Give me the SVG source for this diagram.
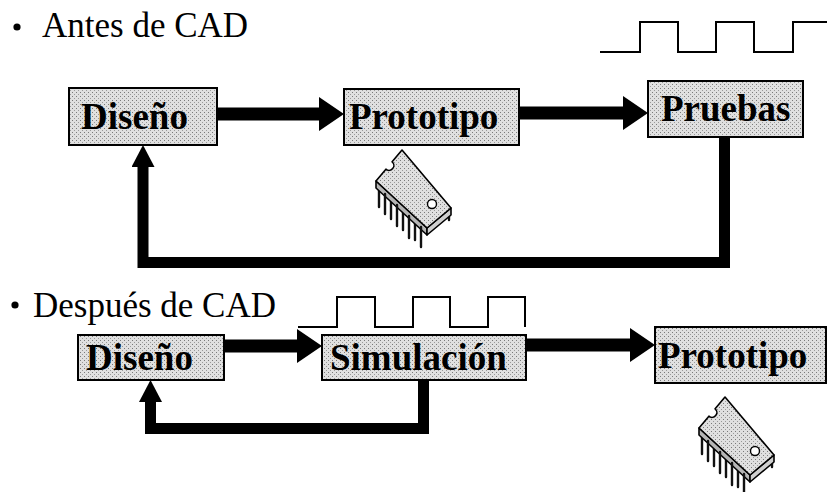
<svg xmlns="http://www.w3.org/2000/svg" width="827" height="492" viewBox="0 0 827 492">
  <style>
    .box { fill: url(#stipple); stroke: #000; stroke-width: 2; }
    .label { font-family: "Liberation Serif", "Times New Roman", serif; font-weight: bold; font-size: 37px; fill: #000; }
    .heading { font-family: "Liberation Serif", "Times New Roman", serif; font-size: 35px; fill: #000; }
    .flow { fill: none; stroke: #000; stroke-width: 13; }
    .loop { fill: none; stroke: #000; stroke-width: 11; }
    .wave { fill: none; stroke: #000; stroke-width: 2; }
    .pin { stroke: #111; stroke-width: 2.4; stroke-linecap: round; }
    .edge { stroke: #000; stroke-width: 1.6; stroke-linejoin: round; }
  </style>
  <defs>
    <!-- halftone-like grey fill used by the boxes and the chip -->
    <pattern id="stipple" width="4" height="4" patternUnits="userSpaceOnUse">
      <rect width="4" height="4" fill="#e0e0e0"/>
      <rect x="0" y="0" width="1" height="1" fill="#7a7a7a"/>
      <rect x="2" y="2" width="1" height="1" fill="#9a9a9a"/>
    </pattern>
    <!-- big arrowhead for the forward flow (line ends at the base) -->
    <marker id="headFlow" viewBox="0 0 25 34" refX="0" refY="17" markerWidth="25" markerHeight="34" markerUnits="userSpaceOnUse" orient="auto">
      <path d="M0,0 L25,17 L0,34 Z" fill="#000"/>
    </marker>
    <!-- smaller arrowhead for the feedback loops -->
    <marker id="headLoop" viewBox="0 0 22 23" refX="0" refY="11.5" markerWidth="22" markerHeight="23" markerUnits="userSpaceOnUse" orient="auto">
      <path d="M0,0 L22,11.5 L0,23 Z" fill="#000"/>
    </marker>
    <!-- DIP integrated circuit drawn in isometric view -->
    <g id="chip">
      <!-- back row of pins -->
      <line class="pin" x1="379" y1="187" x2="379" y2="207"/>
      <line class="pin" x1="391" y1="197" x2="391" y2="219"/>
      <line class="pin" x1="403" y1="208" x2="403" y2="230"/>
      <line class="pin" x1="415" y1="219" x2="415" y2="240"/>
      <line class="pin" x1="449" y1="212" x2="449" y2="220"/>
      <!-- body -->
      <path class="edge" d="M376,181 L427,228 L427,235 L376,188 Z" fill="#b5b5b5"/>
      <path class="edge" d="M427,228 L451,208 L451,215 L427,235 Z" fill="#cfcfcf"/>
      <path class="edge" d="M402,150 L392.1,161.8 A4.8,4.8 0 0 1 385.9,169.2 L376,181 L427,228 L451,208 Z" fill="url(#stipple)"/>
      <circle cx="432" cy="204" r="4.5" fill="#fff" stroke="#000" stroke-width="1.4"/>
      <!-- front row of pins -->
      <line class="pin" x1="385" y1="194" x2="385" y2="214"/>
      <line class="pin" x1="397" y1="205" x2="397" y2="226"/>
      <line class="pin" x1="409" y1="216" x2="409" y2="238"/>
      <line class="pin" x1="421" y1="227" x2="421" y2="247"/>
    </g>
  </defs>

  <rect width="827" height="492" fill="#fff"/>

  <!-- section headings -->
  <g id="heading-antes">
    <circle cx="17" cy="27" r="3.6" fill="#000"/>
    <text class="heading" x="42" y="37">Antes de CAD</text>
  </g>
  <g id="heading-despues">
    <circle cx="15" cy="305" r="3.6" fill="#000"/>
    <text class="heading" x="33" y="317">Después de CAD</text>
  </g>

  <!-- connectors -->
  <g id="connectors">
    <line class="flow" x1="217" y1="114" x2="319" y2="114" marker-end="url(#headFlow)"/>
    <line class="flow" x1="519" y1="113" x2="623" y2="113" marker-end="url(#headFlow)"/>
    <path class="loop" d="M724.5,137 V262.5 H143 V167" marker-end="url(#headLoop)"/>
    <line class="flow" x1="224" y1="346" x2="297" y2="346" marker-end="url(#headFlow)"/>
    <line class="flow" x1="526" y1="345" x2="630" y2="345" stroke-width="14" marker-end="url(#headFlow)"/>
    <path class="loop" d="M423.5,380 V428.5 H150.5 V402" marker-end="url(#headLoop)"/>
  </g>

  <!-- nodes: before CAD -->
  <g id="n-diseno-antes">
    <rect class="box" x="69" y="88" width="148" height="57"/>
    <text class="label" x="81" y="129">Diseño</text>
  </g>
  <g id="n-prototipo-antes">
    <rect class="box" x="344" y="89" width="175" height="56"/>
    <text class="label" x="349" y="129">Prototipo</text>
  </g>
  <g id="n-pruebas">
    <rect class="box" x="648" y="81" width="155" height="56"/>
    <text class="label" x="661" y="121">Pruebas</text>
  </g>

  <!-- nodes: after CAD -->
  <g id="n-diseno-despues">
    <rect class="box" x="78" y="335" width="146" height="45"/>
    <text class="label" x="86" y="370">Diseño</text>
  </g>
  <g id="n-simulacion">
    <rect class="box" x="322" y="335" width="204" height="45"/>
    <text class="label" x="330" y="370">Simulación</text>
  </g>
  <g id="n-prototipo-despues">
    <rect class="box" x="655" y="327" width="171" height="56"/>
    <text class="label" x="658" y="368">Prototipo</text>
  </g>

  <!-- clock waveforms -->
  <g id="waves">
    <path class="wave" d="M600,52 H640 V22 H678 V52 H716 V22 H754 V52 H793 V22 H827"/>
    <path class="wave" d="M298,327 H337 V297 H375 V327 H413 V297 H450 V327 H488 V297 H525 V327"/>
  </g>

  <!-- chip illustrations -->
  <g id="chips">
    <use href="#chip"/>
    <use href="#chip" transform="translate(323,247)"/>
  </g>
</svg>
